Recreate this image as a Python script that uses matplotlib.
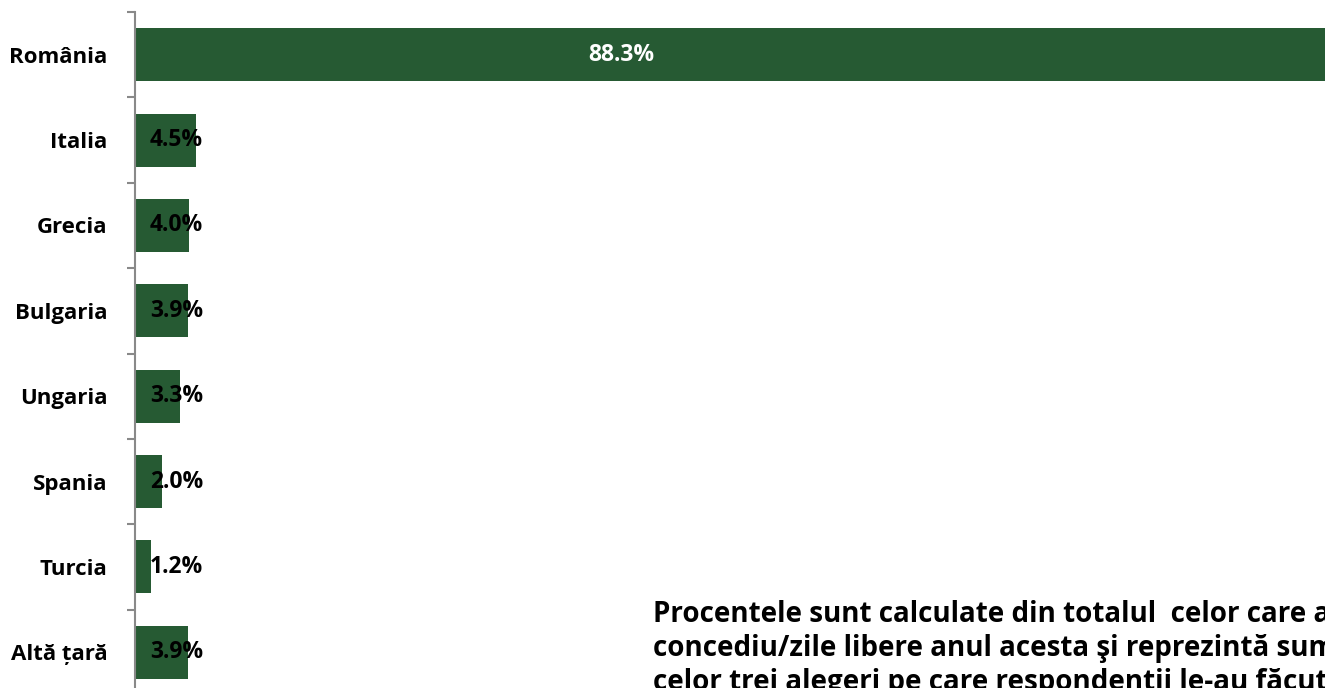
import matplotlib

matplotlib.use("Agg")
import matplotlib.pyplot as plt
import numpy as np

# Destinations and shares (%).
countries = ["România", "Italia", "Grecia", "Bulgaria", "Ungaria", "Spania", "Turcia", "Altă țară"]
shares = [88.3, 4.5, 4.0, 3.9, 3.3, 2.0, 1.2, 3.9]
note = (
    "Procentele sunt calculate din totalul  celor care au avut\n"
    "concediu/zile libere anul acesta şi reprezintă suma\n"
    "celor trei alegeri pe care respondentii le-au făcut"
)

BAR_COLOR = "#265A33"
SPINE_COLOR = "#898989"
plt.rcParams["font.family"] = ["Open Sans", "DejaVu Sans"]
plt.rcParams["font.weight"] = "bold"

fig = plt.figure(figsize=(13.25, 6.88), dpi=100)
ax = fig.add_axes([0.1019, -0.0102, 0.917, 0.9927])

y = np.arange(len(countries))
ax.barh(y, shares, height=0.62, color=BAR_COLOR)
ax.set_xlim(0, 90)
ax.set_ylim(len(countries) - 0.5, -0.5)

ax.set_yticks(y)
ax.set_yticklabels(countries, fontsize=16, fontweight="bold")
ax.set_yticks(np.arange(len(countries) + 1) - 0.5, minor=True)
ax.tick_params(axis="y", which="major", length=0, pad=20)
ax.tick_params(axis="y", which="minor", length=6, width=1.5, color=SPINE_COLOR)
ax.set_xticks([])

for side in ("top", "right", "bottom"):
    ax.spines[side].set_visible(False)
ax.spines["left"].set_color(SPINE_COLOR)
ax.spines["left"].set_linewidth(1.5)

for yi, val in zip(y, shares):
    if val > 50:
        ax.text(36, yi, f"{val:.1f}%", color="white", fontsize=16.5,
                fontweight="bold", ha="center", va="center")
    else:
        ax.text(1.1, yi, f"{val:.1f}%", color="black", fontsize=16.5,
                fontweight="bold", ha="left", va="center")

# the note runs off the right and bottom edges, as in the source image
fig.text(0.493, 1 - 600 / 688, note, fontsize=20, fontweight="bold",
         ha="left", va="top", linespacing=1.22)

fig.savefig("out.png", dpi=100)
